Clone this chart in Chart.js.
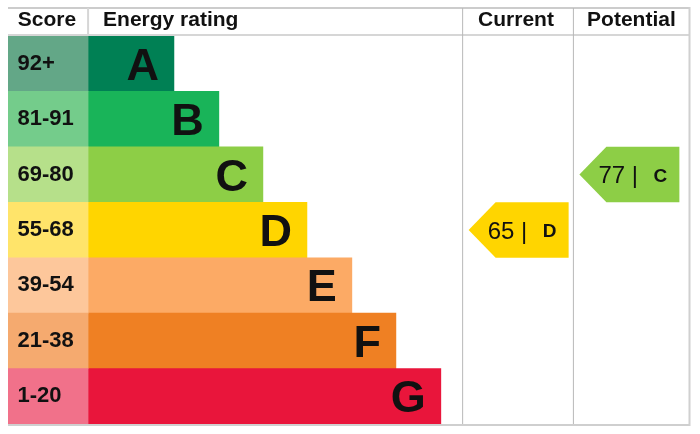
<!DOCTYPE html>
<html>
<head>
<meta charset="utf-8">
<script src="https://cdn.jsdelivr.net/npm/chart.js@4"></script>
<style>
  body { margin: 0; background: #fff; }
</style>
</head>
<body>
<canvas id="epcChart" width="700" height="434"></canvas>
<script>
const bandLetters = ["A", "B", "C", "D", "E", "F", "G"];
const scoreRanges = ["92+", "81-91", "69-80", "55-68", "39-54", "21-38", "1-20"];
const bandMinScore = [92, 81, 69, 55, 39, 21, 1];
// length of each band bar, in band steps
const barLengths = [1.93, 2.94, 3.93, 4.92, 5.93, 6.92, 7.93];
const currentScore = 65;
const potentialScore = 77;
const headers = ["Score", "Energy rating", "Current", "Potential"];

const bandColors = ["#008054", "#19b459", "#8dce46", "#ffd500", "#fcaa65", "#ef8023", "#e9153b"];
const scoreColors = ["#63a787", "#74cc8b", "#b6e08a", "#ffe46a", "#fdc79b", "#f5aa6f", "#f1718a"];

// column edges on the x scale
const cols = { score: -1.8, energy: 0, current: 8.42, potential: 10.91, end: 13.52 };
const FONT = '"Liberation Sans", Arial, sans-serif';

function bandFor(score) {
  return bandMinScore.findIndex((m) => score >= m);
}

function drawArrow(ctx, x, y, colValue, score) {
  const idx = bandFor(score);
  const cy = y.getPixelForValue(idx);
  const half = (y.getPixelForValue(1) - y.getPixelForValue(0)) / 2;
  const tip = x.getPixelForValue(colValue) + 6;
  const notch = tip + 27;
  const right = tip + 100;
  ctx.fillStyle = bandColors[idx];
  ctx.beginPath();
  ctx.moveTo(tip, cy);
  ctx.lineTo(notch, cy - half);
  ctx.lineTo(right, cy - half);
  ctx.lineTo(right, cy + half);
  ctx.lineTo(notch, cy + half);
  ctx.closePath();
  ctx.fill();

  ctx.fillStyle = "#111";
  ctx.textAlign = "left";
  ctx.textBaseline = "alphabetic";
  ctx.font = "24px " + FONT;
  ctx.fillText(score + " |", tip + 19, cy + 8.5);
  ctx.font = "bold 19px " + FONT;
  ctx.fillText(bandLetters[idx], tip + 74, cy + 7);
}

function line(ctx, x1, y1, x2, y2, color, w) {
  ctx.strokeStyle = color;
  ctx.lineWidth = w;
  ctx.beginPath();
  ctx.moveTo(x1, y1);
  ctx.lineTo(x2, y2);
  ctx.stroke();
}

const epcDecor = {
  id: "epcDecor",
  afterDatasetsDraw(chart) {
    const { ctx, scales: { x, y }, chartArea } = chart;
    const headTop = chartArea.top - 28;
    const left = chartArea.left, right = chartArea.right;
    const xEnergy = x.getPixelForValue(cols.energy);
    const xCur = x.getPixelForValue(cols.current);
    const xPot = x.getPixelForValue(cols.potential);
    ctx.save();

    // score and letter labels
    ctx.fillStyle = "#111";
    bandLetters.forEach((letter, i) => {
      const cy = y.getPixelForValue(i);
      ctx.textAlign = "left";
      ctx.textBaseline = "alphabetic";
      ctx.font = "bold 22px " + FONT;
      ctx.fillText(scoreRanges[i], left + 9.5, cy + 6);
      ctx.textAlign = "right";
      ctx.font = "bold 45px " + FONT;
      ctx.fillText(letter, x.getPixelForValue(barLengths[i]) - 15, cy + 16);
    });

    // current and potential arrows
    drawArrow(ctx, x, y, cols.current, currentScore);
    drawArrow(ctx, x, y, cols.potential, potentialScore);

    // frame
    line(ctx, left, headTop, right, headTop, "#cccccc", 2);
    line(ctx, left, chartArea.top - 1, right, chartArea.top - 1, "#d6d6d6", 2);
    line(ctx, left, chartArea.bottom + 1, right, chartArea.bottom + 1, "#cfcfcf", 2);
    line(ctx, xEnergy, headTop, xEnergy, chartArea.top, "#d6d6d6", 2);
    line(ctx, xCur, headTop, xCur, chartArea.bottom, "#b8b8b8", 1);
    line(ctx, xPot, headTop, xPot, chartArea.bottom, "#b8b8b8", 1);
    line(ctx, right, headTop - 1, right, chartArea.bottom + 2, "#d0d0d0", 2);

    // headers
    const hy = headTop + 17.5;
    ctx.fillStyle = "#111";
    ctx.font = "bold 21px " + FONT;
    ctx.textBaseline = "alphabetic";
    ctx.textAlign = "center";
    ctx.fillText(headers[0], (left + xEnergy) / 2 - 1, hy);
    ctx.textAlign = "left";
    ctx.fillText(headers[1], xEnergy + 15, hy);
    ctx.textAlign = "center";
    ctx.fillText(headers[2], (xCur + xPot) / 2 - 2, hy);
    ctx.fillText(headers[3], (xPot + right) / 2, hy);
    ctx.restore();
  }
};

new Chart(document.getElementById("epcChart"), {
  type: "bar",
  data: {
    labels: bandLetters,
    datasets: [
      {
        label: "Score",
        data: bandLetters.map(() => [cols.score, cols.energy]),
        backgroundColor: scoreColors,
      },
      {
        label: "Energy rating",
        data: barLengths.map((v) => [cols.energy, v]),
        backgroundColor: bandColors,
      },
    ],
  },
  options: {
    indexAxis: "y",
    responsive: false,
    devicePixelRatio: 1,
    animation: false,
    grouped: false,
    barPercentage: 1,
    categoryPercentage: 1,
    borderWidth: 0,
    layout: { padding: { left: 8, right: 10.5, top: 36, bottom: 10 } },
    scales: {
      x: { type: "linear", min: cols.score, max: cols.end, display: false },
      y: { type: "category", display: false },
    },
    plugins: {
      legend: { display: false },
      tooltip: { enabled: false },
    },
  },
  plugins: [epcDecor],
});
</script>
</body>
</html>
